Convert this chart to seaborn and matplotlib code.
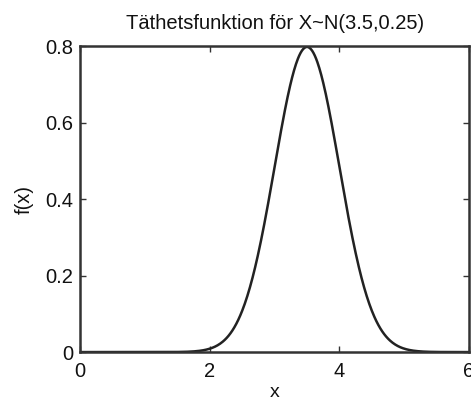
import numpy as np
import pandas as pd
import seaborn as sns
import matplotlib
matplotlib.use("Agg")
import matplotlib.pyplot as plt

# Normal distribution parameters (mean, variance) as given in the title
mu = 3.5
variance = 0.25
x_range = [0, 6]
x_ticks = [0, 2, 4, 6]
y_ticks = [0, 0.2, 0.4, 0.6, 0.8]
y_tick_labels = ["0", "0.2", "0.4", "0.6", "0.8"]

sigma = np.sqrt(variance)
xs = np.linspace(x_range[0], x_range[1], 601)
fx = np.exp(-(xs - mu) ** 2 / (2 * variance)) / (sigma * np.sqrt(2 * np.pi))
df = pd.DataFrame({"x": xs, "f(x)": fx})

sns.set_theme(style="ticks")
plt.rcParams["font.family"] = ["Liberation Sans", "DejaVu Sans"]
plt.rcParams.update({
    "xtick.direction": "in", "ytick.direction": "in",
    "xtick.top": True, "ytick.right": True,
    "xtick.major.size": 4, "ytick.major.size": 4,
    "xtick.major.width": 1.0, "ytick.major.width": 1.0,
    "xtick.color": "#333333", "ytick.color": "#333333",
})

fig = plt.figure(figsize=(4.71, 4.01), dpi=100)
ax = fig.add_axes([0.170, 0.122, 0.826, 0.763])
sns.lineplot(data=df, x="x", y="f(x)", ax=ax, color="#222222", linewidth=1.8)

ax.set_xlim(*x_range)
ax.set_ylim(0, 0.8)
ax.set_xticks(x_ticks)
ax.set_xticklabels([str(t) for t in x_ticks])
ax.set_yticks(y_ticks)
ax.set_yticklabels(y_tick_labels)
ax.tick_params(labelsize=14.5, labelcolor="#111111")
ax.tick_params(axis="x", pad=7)
ax.tick_params(axis="y", pad=5)
for s in ax.spines.values():
    s.set_visible(True)
    s.set_linewidth(1.8)
    s.set_color("#333333")

ax.set_title("Täthetsfunktion för X~N(3.5,0.25)", fontsize=14.5, color="#111111", pad=12)
ax.set_xlabel("x", fontsize=14, color="#111111", va="center")
ax.xaxis.set_label_coords(0.5, -0.133)
ax.set_ylabel("f(x)", fontsize=14.5, color="#111111", labelpad=8)

fig.savefig("out.png", dpi=100)
